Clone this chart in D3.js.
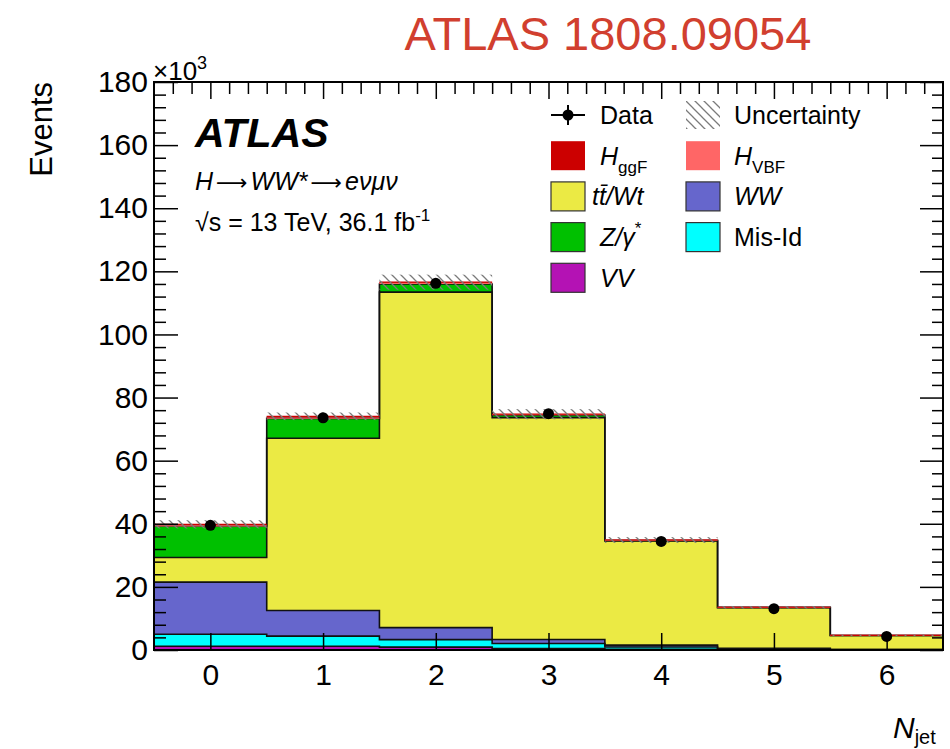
<!DOCTYPE html>
<html>
<head>
<meta charset="utf-8">
<script src="https://cdn.jsdelivr.net/npm/d3@7"></script>
<style>
  body { margin: 0; background: #fff; }
  svg { display: block; }
  text { font-family: "Liberation Sans", Arial, Helvetica, sans-serif; }
</style>
</head>
<body>
<svg id="chart" width="950" height="749"></svg>
<script>
// Jet multiplicity bins and per-bin event yields (in units of 10^3 events)
const nJet    = [0, 1, 2, 3, 4, 5, 6];
const yVV     = [1.2, 1.2, 0.9, 0.45, 0.25, 0.08, 0.03];
const yMisId  = [3.8, 3.2, 2.4, 1.6, 0.7, 0.25, 0.08];
const yWW     = [16.5, 8.1, 3.8, 1.3, 0.6, 0.2, 0.07];
const yTop    = [7.8, 54.6, 106.3, 70.3, 33.0, 12.9, 4.4];
const yZjets  = [10.0, 6.3, 2.6, 0.8, 0.2, 0.08, 0.03];
const yHVBF   = [0.02, 0.06, 0.15, 0.12, 0.06, 0.02, 0.01];
const yHggF   = [0.5, 0.6, 0.4, 0.15, 0.05, 0.02, 0.01];
const yData   = [39.5, 73.6, 116.2, 74.9, 34.4, 13.1, 4.3];
const yUnc    = [1.3, 1.2, 2.4, 1.6, 0.9, 0.4, 0.2];
const yTicks  = [0, 20, 40, 60, 80, 100, 120, 140, 160, 180];

const processes = [
  { key: "vv",    values: yVV,    fill: "#b412b4", line: "#111", signal: false },
  { key: "misid", values: yMisId, fill: "#00ffff", line: "#111", signal: false },
  { key: "ww",    values: yWW,    fill: "#6666cc", line: "#111", signal: false },
  { key: "top",   values: yTop,   fill: "#ebea44", line: "#111", signal: false },
  { key: "zjets", values: yZjets, fill: "#00c000", line: "#111", signal: false },
  { key: "hvbf",  values: yHVBF,  fill: "#ff6666", line: "#ff6666", signal: true },
  { key: "hggf",  values: yHggF,  fill: "#cc0000", line: "#cc0000", signal: true }
];

const svg = d3.select("#chart");
const L = 154, R = 943, T = 82, B = 650;
const x = d3.scaleLinear().domain([-0.5, 6.5]).range([L, R]);
const y = d3.scaleLinear().domain([0, 180]).range([B, T]);

// hatch used for the systematic band
const defs = svg.append("defs");
const pat = defs.append("pattern")
  .attr("id", "hatch").attr("patternUnits", "userSpaceOnUse")
  .attr("width", 9).attr("height", 9);
pat.append("path")
  .attr("d", "M-2,-2 L11,11 M-2,7 L2,11 M7,-2 L11,2")
  .attr("stroke", "#7a7a7a").attr("stroke-width", 1.3);

defs.append("clipPath").attr("id", "plotclip")
  .append("rect").attr("x", L).attr("y", T).attr("width", R - L).attr("height", B - T);

// stacked histograms
const rows = nJet.map((n, i) => {
  const r = { n };
  processes.forEach(p => r[p.key] = p.values[i]);
  return r;
});
const stack = d3.stack().keys(processes.map(p => p.key));
const layers = stack(rows);

const stepPts = layer => layer.flatMap((d, i) => [
  { xv: nJet[i] - 0.5, y0: d[0], y1: d[1] },
  { xv: nJet[i] + 0.5, y0: d[0], y1: d[1] }
]);
const area = d3.area().x(p => x(p.xv)).y0(p => y(p.y0)).y1(p => y(p.y1));
const topLine = d3.line().x(p => x(p.xv)).y(p => y(p.y1));

const plot = svg.append("g").attr("clip-path", "url(#plotclip)");
layers.forEach((layer, k) => {
  plot.append("path").datum(stepPts(layer))
    .attr("d", area).attr("fill", processes[k].fill).attr("stroke", "none");
});
// background outlines: full step lines
layers.forEach((layer, k) => {
  if (processes[k].signal) return;
  plot.append("path").datum(stepPts(layer))
    .attr("d", topLine).attr("fill", "none")
    .attr("stroke", processes[k].line).attr("stroke-width", 1.6);
});
// signal outlines: bin tops only
layers.forEach((layer, k) => {
  if (!processes[k].signal) return;
  plot.selectAll(null).data(layer).join("line")
    .attr("x1", (d, i) => x(nJet[i] - 0.5)).attr("x2", (d, i) => x(nJet[i] + 0.5))
    .attr("y1", d => y(d[1])).attr("y2", d => y(d[1]))
    .attr("stroke", processes[k].line).attr("stroke-width", 1.2);
});

// uncertainty band around the total prediction
const totals = nJet.map((n, i) => d3.sum(processes, p => p.values[i]));
plot.selectAll("rect.unc").data(nJet).join("rect")
  .attr("class", "unc")
  .attr("x", (n) => x(n - 0.5)).attr("width", (n) => x(n + 0.5) - x(n - 0.5))
  .attr("y", (n, i) => y(totals[i] + yUnc[i]))
  .attr("height", (n, i) => y(totals[i] - yUnc[i]) - y(totals[i] + yUnc[i]))
  .attr("fill", "url(#hatch)");

// data points
plot.selectAll("circle.data").data(nJet).join("circle")
  .attr("class", "data")
  .attr("cx", n => x(n)).attr("cy", (n, i) => y(yData[i]))
  .attr("r", 5.5).attr("fill", "#000");

// axes: ticks drawn inward on all four sides
const tickFont = 30;
const minorY = d3.range(0, 181, 4).filter(v => v % 20);
svg.append("g").attr("transform", `translate(${L},0)`)
  .call(d3.axisLeft(y).tickValues(yTicks).tickSizeInner(-24).tickSizeOuter(0).tickPadding(6));
svg.append("g").attr("transform", `translate(${L},0)`)
  .call(d3.axisLeft(y).tickValues(minorY).tickSize(-12).tickFormat(""));
svg.append("g").attr("transform", `translate(${R},0)`)
  .call(d3.axisRight(y).tickValues(yTicks).tickSize(-23).tickFormat(""));
svg.append("g").attr("transform", `translate(${R},0)`)
  .call(d3.axisRight(y).tickValues(minorY).tickSize(-11).tickFormat(""));
svg.append("g").attr("transform", `translate(0,${B})`)
  .call(d3.axisBottom(x).tickValues(nJet).tickSizeInner(-17).tickSizeOuter(0).tickPadding(14).tickFormat(d3.format("d")));
svg.append("g").attr("transform", `translate(0,${T})`)
  .call(d3.axisTop(x).tickValues(nJet).tickSize(-17).tickFormat(""));
svg.append("g").attr("transform", `translate(0,${T})`)
  .call(d3.axisTop(x).tickValues(d3.range(-3, 40).map(k => k / 6).filter(v => v > -0.5 && v < 6.5 && Math.abs(v - Math.round(v)) > 1e-6)).tickSize(-12).tickFormat(""));

svg.selectAll(".domain").remove();
svg.selectAll(".tick line").attr("stroke", "#000").attr("stroke-width", 1.5);
svg.selectAll(".tick text").attr("font-size", tickFont).attr("fill", "#000")
  .style("font-family", "'Liberation Sans', Arial, sans-serif");

// frame
svg.append("rect").attr("x", L).attr("y", T).attr("width", R - L).attr("height", B - T)
  .attr("fill", "none").attr("stroke", "#000").attr("stroke-width", 2);

// multiplier label
const mult = svg.append("text").attr("x", 153).attr("y", 80).attr("font-size", 26);
mult.append("tspan").text("×10");
mult.append("tspan").attr("dy", -11).attr("font-size", 18).text("3");

// axis titles
svg.append("text").attr("transform", "translate(52,82) rotate(-90)")
  .attr("text-anchor", "end").attr("font-size", 31).text("Events");
const xt = svg.append("text").attr("x", 893).attr("y", 738).attr("font-size", 30);
xt.append("tspan").attr("font-style", "italic").text("N");
xt.append("tspan").attr("dy", 6).attr("font-size", 20).text("jet");

// title
svg.append("text").attr("x", 608).attr("y", 50).attr("text-anchor", "middle")
  .attr("font-size", 47).attr("fill", "#d13f2f").text("ATLAS 1808.09054");

// ATLAS label
svg.append("text").attr("x", 195).attr("y", 147).attr("font-size", 41)
  .attr("font-weight", "bold").attr("font-style", "italic").text("ATLAS");
const proc = svg.append("text").attr("x", 195).attr("y", 190).attr("font-size", 25).attr("font-style", "italic");
proc.append("tspan").text("H");
proc.append("tspan").attr("font-style", "normal").style("font-family", "'DejaVu Sans'").attr("font-size", 22).attr("dx", 3).text("⟶");
proc.append("tspan").attr("dx", 3).text("WW*");
proc.append("tspan").attr("font-style", "normal").style("font-family", "'DejaVu Sans'").attr("font-size", 22).attr("dx", 3).text("⟶");
proc.append("tspan").attr("dx", 3).text("eνμν");
const en = svg.append("text").attr("x", 195).attr("y", 231).attr("font-size", 25);
en.append("tspan").text("√s = 13 TeV, 36.1 fb");
en.append("tspan").attr("dy", -10).attr("font-size", 17).text("-1");

// legend
const legendRows = [
  { col: 0, row: 0, type: "data", parts: [{ t: "Data" }] },
  { col: 1, row: 0, type: "unc", parts: [{ t: "Uncertainty" }] },
  { col: 0, row: 1, fill: "#cc0000", stroke: "none", parts: [{ t: "H", i: 1 }, { t: "ggF", sub: 1 }] },
  { col: 1, row: 1, fill: "#ff6666", stroke: "none", parts: [{ t: "H", i: 1 }, { t: "VBF", sub: 1 }] },
  { col: 0, row: 2, fill: "#ebea44", stroke: "#333", parts: [{ t: "tt\u0304/Wt", i: 1 }], dx: -8 },
  { col: 1, row: 2, fill: "#6666cc", stroke: "#333", parts: [{ t: "WW", i: 1 }] },
  { col: 0, row: 3, fill: "#00c000", stroke: "#333", parts: [{ t: "Z/γ", i: 1 }, { t: "*", sup: 1 }] },
  { col: 1, row: 3, fill: "#00ffff", stroke: "#333", parts: [{ t: "Mis-Id" }] },
  { col: 0, row: 4, fill: "#b412b4", stroke: "#333", parts: [{ t: "VV", i: 1 }] }
];
const boxX = [551, 686], txtX = [600, 734];
const rowY = r => 115 + r * 40.7;
const lg = svg.append("g");
legendRows.forEach(e => {
  const cy = rowY(e.row), bx = boxX[e.col];
  if (e.type === "data") {
    lg.append("line").attr("x1", bx).attr("x2", bx + 34).attr("y1", cy).attr("y2", cy).attr("stroke", "#000").attr("stroke-width", 2);
    lg.append("line").attr("x1", bx + 17).attr("x2", bx + 17).attr("y1", cy - 10).attr("y2", cy + 10).attr("stroke", "#000").attr("stroke-width", 2);
    lg.append("circle").attr("cx", bx + 17).attr("cy", cy).attr("r", 5.5).attr("fill", "#000");
  } else if (e.type === "unc") {
    lg.append("rect").attr("x", bx).attr("y", cy - 14).attr("width", 34).attr("height", 28).attr("fill", "url(#hatch)");
  } else {
    lg.append("rect").attr("x", bx).attr("y", cy - 14.5).attr("width", 34).attr("height", 29)
      .attr("fill", e.fill).attr("stroke", e.stroke).attr("stroke-width", 1.2);
  }
  const t = lg.append("text").attr("x", txtX[e.col] + (e.dx || 0)).attr("y", cy + 9).attr("font-size", 25);
  let shift = 0;
  e.parts.forEach(p => {
    const s = t.append("tspan").text(p.t);
    if (p.i) s.attr("font-style", "italic");
    let target = 0, size = null;
    if (p.sub) { target = 8; size = 17; }
    if (p.sup) { target = -12; size = 17; }
    if (target !== shift) { s.attr("dy", target - shift); shift = target; }
    if (size) s.attr("font-size", size);
  });
});
</script>
</body>
</html>
